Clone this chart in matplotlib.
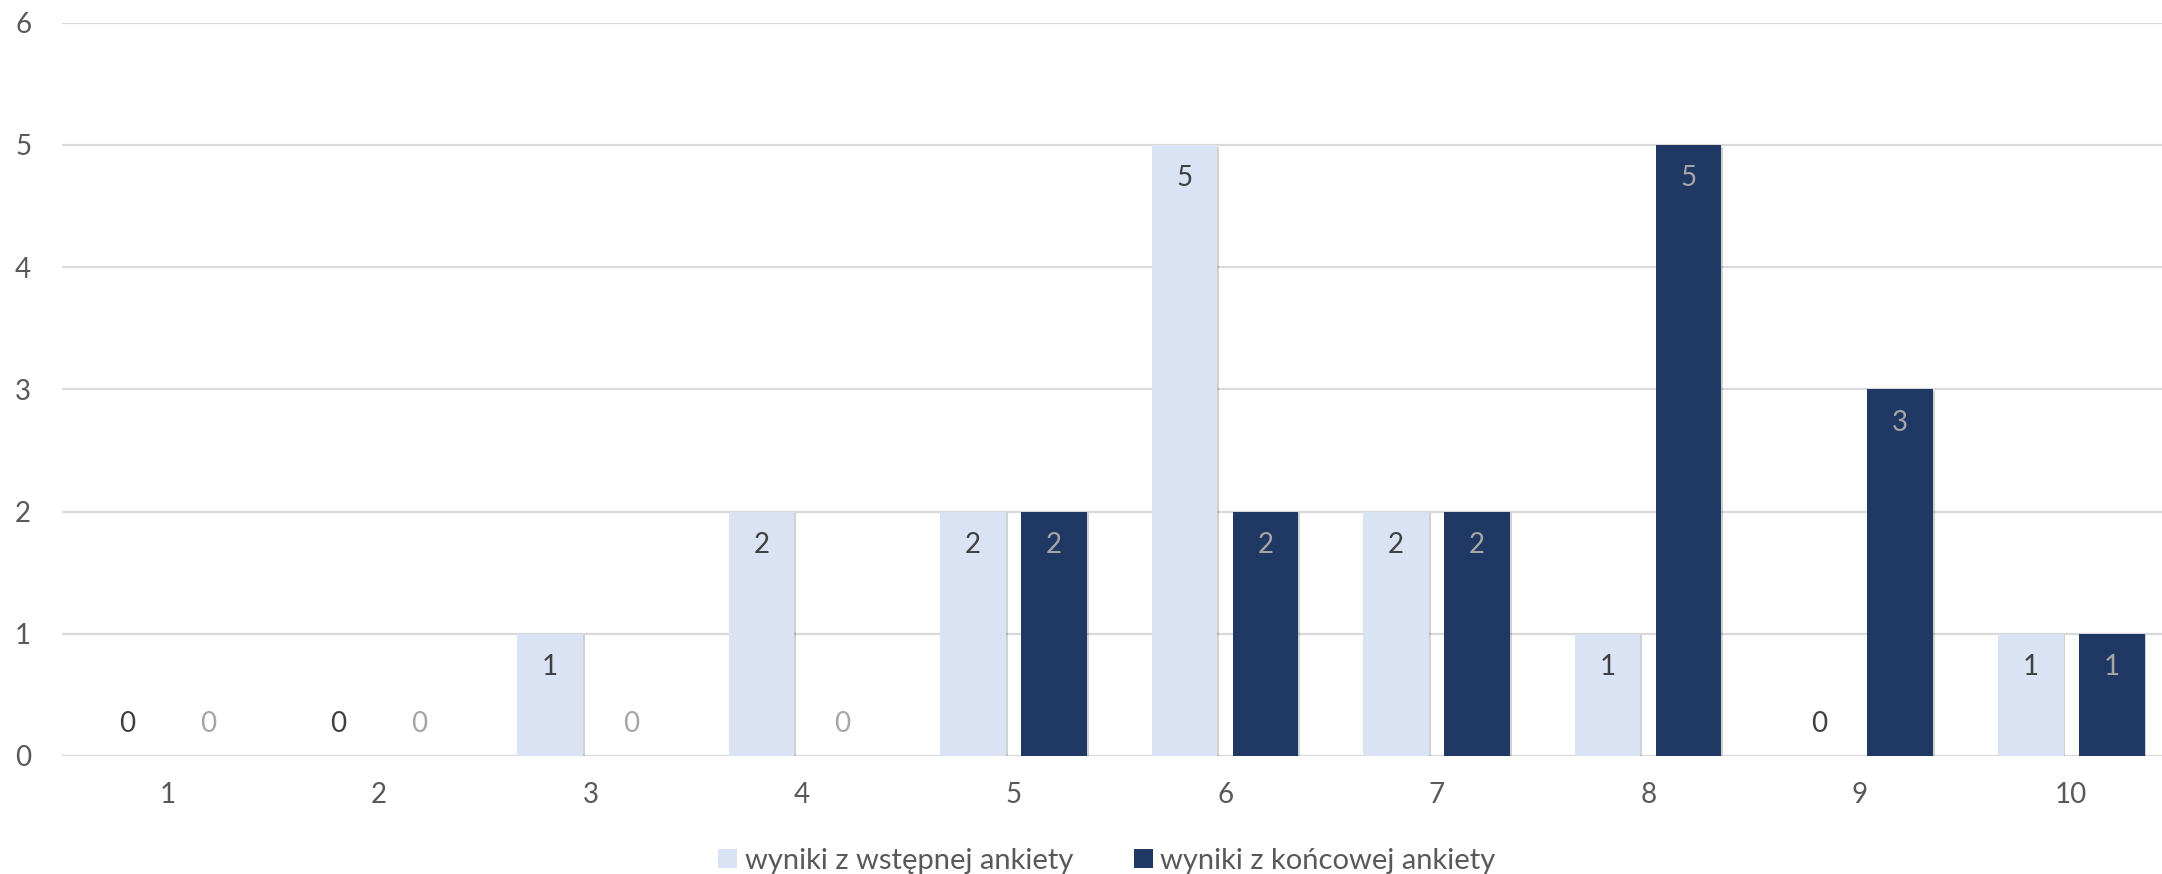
import numpy as np
import matplotlib
matplotlib.use("Agg")
import matplotlib.pyplot as plt
import matplotlib.patheffects as pe
from matplotlib.patches import Patch

categories = ["1", "2", "3", "4", "5", "6", "7", "8", "9", "10"]
initial_survey = [0, 0, 1, 2, 2, 5, 2, 1, 0, 1]
final_survey = [0, 0, 0, 0, 2, 2, 2, 5, 3, 1]
series_names = ["wyniki z wstępnej ankiety", "wyniki z końcowej ankiety"]
y_ticks = [0, 1, 2, 3, 4, 5, 6]

LIGHT = "#DAE3F3"
DARK = "#203864"
TEXT = "#595959"
FS = 20

plt.rcParams["font.family"] = ["Lato", "DejaVu Sans"]

W, H = 2162, 874
fig = plt.figure(figsize=(W / 100, H / 100), dpi=100)
left, right = 61.75 / W, 2177 / W
bottom, top = (H - 756) / H, (H - 22.7) / H
ax = fig.add_axes([left, bottom, right - left, top - bottom])

x = np.arange(1, len(categories) + 1)
bw = 0.31
off = 0.1915
shadow = [pe.SimplePatchShadow(offset=(1.2, -1.2), shadow_rgbFace="#000000", alpha=0.18),
          pe.Normal()]

b1 = ax.bar(x - off, initial_survey, width=bw, color=LIGHT, zorder=3)
b2 = ax.bar(x + off, final_survey, width=bw, color=DARK, zorder=3)
for b in list(b1) + list(b2):
    if b.get_height() > 0:
        b.set_path_effects(shadow)

def label(bars, values, color):
    for b, v in zip(bars, values):
        cx = b.get_x() + b.get_width() / 2
        dy = -24 if v > 0 else 23
        ax.annotate(str(v), (cx, v), xytext=(0, dy), textcoords="offset points",
                    ha="center", va="center", fontsize=FS, color=color, zorder=5)

label(b1, initial_survey, "#404040")
label(b2, final_survey, "#A6A6A6")

ax.set_xlim(0.5, len(categories) + 0.5)
ax.set_ylim(0, 6)
ax.set_yticks(y_ticks)
ax.set_xticks(x)
ax.set_xticklabels(categories)
ax.tick_params(axis="both", length=0, labelsize=FS, labelcolor=TEXT)
ax.tick_params(axis="y", pad=22)
ax.tick_params(axis="x", pad=19)
for s in ax.spines.values():
    s.set_visible(False)
ax.yaxis.grid(True, color="#D9D9D9", linewidth=1.6, zorder=0)
ax.set_axisbelow(True)

handles = [Patch(facecolor=LIGHT, label=series_names[0]),
           Patch(facecolor=DARK, label=series_names[1])]
fig.legend(handles=handles, loc="center", bbox_to_anchor=(1107 / W, 1 - 861 / H),
           ncol=2, frameon=False, fontsize=21, labelcolor=TEXT,
           handlelength=0.65, handleheight=0.65, handletextpad=0.25, columnspacing=2.1)

fig.savefig("out.png", dpi=100)
